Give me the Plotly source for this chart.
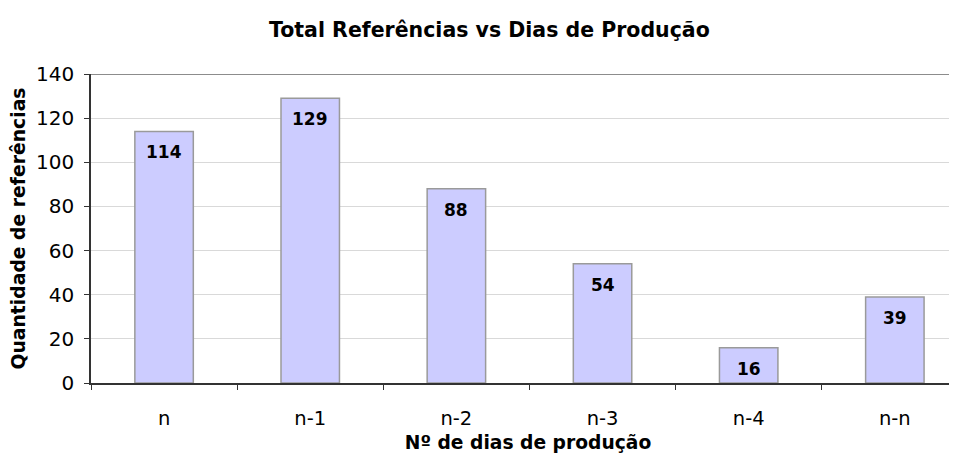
import plotly.graph_objects as go

categories = ["n", "n-1", "n-2", "n-3", "n-4", "n-n"]
values = [114, 129, 88, 54, 16, 39]
y_ticks = [0, 20, 40, 60, 80, 100, 120, 140]

FONT = "DejaVu Sans, Verdana, sans-serif"

fig = go.Figure()
fig.add_trace(go.Bar(
    x=categories, y=values,
    marker=dict(color="#CCCCFF", line=dict(color="#9a9a9a", width=1.5)),
    width=0.4,
    hoverinfo="x+y",
))

for c, v in zip(categories, values):
    fig.add_annotation(x=c, y=v, text=f"<b>{v}</b>", showarrow=False,
                       yanchor="top", yshift=-9,
                       font=dict(family=FONT, size=17, color="#000"))

fig.add_shape(type="line", xref="paper", yref="y", x0=0, x1=1, y0=140, y1=140,
              line=dict(color="#8c8c8c", width=2))

fig.update_layout(
    width=957, height=453,
    margin=dict(l=83, r=0, t=66, b=78, autoexpand=False),
    paper_bgcolor="white", plot_bgcolor="white",
    showlegend=False,
    title=dict(text="<b>Total Referências vs Dias de Produção</b>",
               x=0.503, xanchor="center", y=0.951, yanchor="middle",
               font=dict(family=FONT, size=20.5, color="#000")),
    font=dict(family=FONT, size=18, color="#000"),
)
fig.update_xaxes(
    type="category", range=[-0.5, 5.48], automargin=False,
    showline=True, linecolor="#333", linewidth=1.5,
    ticks="outside", tickson="boundaries", ticklen=5, tickcolor="#333",
    ticklabelstandoff=17,
    tickfont=dict(family=FONT, size=19.5), showgrid=False,
    title=dict(text="<b>Nº de dias de produção</b>", standoff=7,
               font=dict(family=FONT, size=18.7)),
)
fig.update_yaxes(
    range=[0, 140], tickvals=y_ticks, automargin=False,
    showline=True, linecolor="#333", linewidth=1.5,
    ticks="outside", ticklen=5, tickcolor="#333",
    ticklabelstandoff=6,
    showgrid=True, gridcolor="#d9d9d9", gridwidth=1, zeroline=False,
    tickfont=dict(family=FONT, size=20),
    title=dict(text="<b>Quantidade de referências</b>", standoff=8,
               font=dict(family=FONT, size=18.8)),
)

fig.write_html("out.html")
